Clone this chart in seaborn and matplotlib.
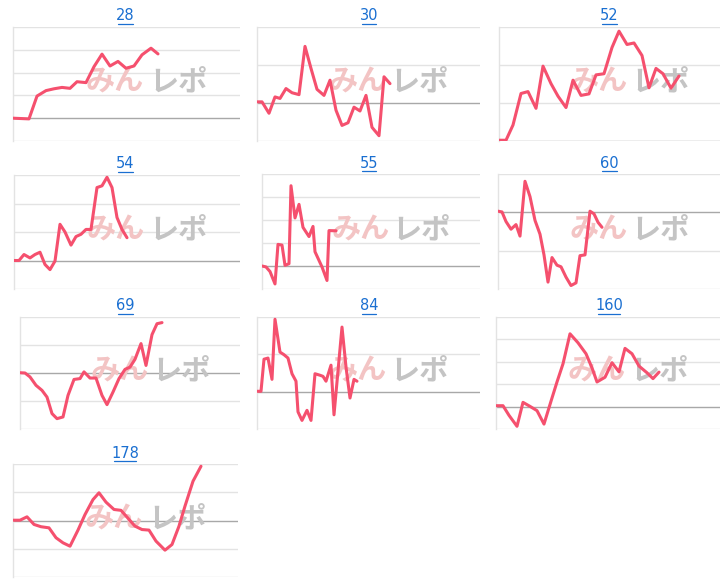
import matplotlib
matplotlib.use("Agg")
import matplotlib.pyplot as plt
import seaborn as sns
import pandas as pd
import numpy as np
from matplotlib.lines import Line2D

sns.set_theme(style="white")
plt.rcParams['font.family'] = ['DejaVu Sans']

titles = ["28", "30", "52", "54", "55", "60", "69", "84", "160", "178"]

x_28 = [0,16,24,33,41,49,57,64,73,81,89,97,105,113,121,129,138,145]
y_28 = [0,-0.03,0.97,1.21,1.29,1.35,1.31,1.60,1.56,2.26,2.81,2.29,2.49,2.19,2.29,2.78,3.07,2.82]
x_30 = [0,5,12,18,23,29,35,42,48,54,60,67,73,79,85,91,97,103,109,115,122,127,133]
y_30 = [0.03,0.03,-0.27,0.16,0.12,0.38,0.27,0.22,1.49,0.91,0.36,0.20,0.60,-0.19,-0.59,-0.52,-0.11,-0.21,0.20,-0.64,-0.86,0.69,0.51]
x_52 = [0,7,14,22,29,37,44,52,59,67,74,82,90,97,105,113,120,128,135,143,150,157,164,172,180]
y_52 = [0.02,0.02,0.42,1.25,1.30,0.86,1.97,1.51,1.18,0.88,1.60,1.20,1.24,1.74,1.77,2.46,2.89,2.54,2.58,2.25,1.40,1.91,1.77,1.39,1.71]
x_54 = [0,5,10,16,21,26,31,36,41,46,51,57,62,67,72,77,83,88,93,98,103,108,113]
y_54 = [0,0,0.21,0.09,0.21,0.29,-0.14,-0.32,-0.02,1.27,1.00,0.54,0.84,0.92,1.09,1.09,2.56,2.62,2.92,2.56,1.51,1.09,0.80]
x_55 = [0,4,8,13,16,20,23,27,29,33,37,41,47,51,53,60,65,67,74]
y_55 = [0,-0.04,-0.24,-0.78,0.94,0.91,0.03,0.10,3.49,2.09,2.68,1.68,1.28,1.72,0.62,-0.04,-0.63,1.54,1.53]
x_60 = [0,4,8,13,18,22,27,32,37,42,46,50,54,59,63,68,73,78,82,87,92,96,100,104]
y_60 = [0.03,0.01,-0.24,-0.44,-0.32,-0.62,0.81,0.41,-0.21,-0.57,-1.11,-1.82,-1.18,-1.38,-1.42,-1.69,-1.91,-1.84,-1.13,-1.11,0.03,-0.04,-0.26,-0.39]
x_69 = [0,5,10,16,22,27,32,37,43,48,54,60,64,70,76,82,87,93,99,105,110,115,121,126,132,137,142]
y_69 = [0.01,0,-0.14,-0.44,-0.62,-0.86,-1.45,-1.63,-1.57,-0.80,-0.23,-0.20,0.04,-0.18,-0.18,-0.80,-1.13,-0.68,-0.20,0.13,0.21,0.49,1.05,0.27,1.37,1.76,1.80]
x_84 = [0,4,7,11,15,18,23,27,31,35,39,41,45,50,54,58,63,66,69,74,77,85,89,93,97,100]
y_84 = [0.01,0.01,0.87,0.90,0.33,1.94,1.06,0.99,0.90,0.48,0.28,-0.54,-0.77,-0.50,-0.77,0.48,0.44,0.41,0.28,0.71,-0.62,1.73,0.66,-0.17,0.33,0.28]
x_160 = [0,7,13,21,27,34,41,48,55,61,67,74,82,90,96,101,109,116,123,129,136,143,151,157,163]
y_160 = [0.04,0.04,-0.39,-0.88,0.19,0.01,-0.18,-0.78,0.24,1.10,1.91,3.25,2.85,2.36,1.73,1.10,1.31,1.96,1.55,2.60,2.36,1.81,1.51,1.25,1.54]
x_178 = [0,7,14,21,28,36,43,50,57,65,72,80,86,93,101,108,116,122,129,136,143,152,159,166,172,180,188]
y_178 = [0.01,0.01,0.13,-0.14,-0.22,-0.26,-0.61,-0.79,-0.91,-0.34,0.21,0.74,0.98,0.65,0.39,0.36,0.04,-0.20,-0.32,-0.34,-0.73,-1.05,-0.85,-0.20,0.51,1.39,1.92]

series = [(x_28,y_28),(x_30,y_30),(x_52,y_52),(x_54,y_54),(x_55,y_55),
          (x_60,y_60),(x_69,y_69),(x_84,y_84),(x_160,y_160),(x_178,y_178)]
ylims = [(-1,4),(-1,2),(0,3),(-1,3),(-1,4),(-2,1),(-2,2),(-1,2),(-1,4),(-2,2)]
rects = [(13,27,227,114),(257,27,223,114),(499,27,221,114),
         (14,175,226,114),(262,174,218,115),(498,174,222,115),
         (20,317,220,112),(257,317,223,112),(496,317,224,112),
         (13,464,225,113)]

W, H = 720, 586
fig = plt.figure(figsize=(W/100, H/100), dpi=100)
fig.patch.set_facecolor("white")
line_color = "#f5506e"

for i, (t, (xs, ys), yl, r) in enumerate(zip(titles, series, ylims, rects)):
    l, top, w, h = r
    ax = fig.add_axes([l/W, 1-(top+h)/H, w/W, h/H])
    df = pd.DataFrame({"x": xs, "y": ys})
    ax.set_xlim(0, w)
    ax.set_ylim(*yl)
    for g in range(yl[0], yl[1]+1):
        ax.axhline(g, color="#a8a8a8" if g == 0 else "#e3e3e3", lw=1, zorder=0)
    ax.text(0.32, 0.52, "みん", transform=ax.transAxes, fontsize=21, fontweight="bold",
            family=["Noto Sans CJK JP"], color="#f3c4c4", style="italic",
            ha="left", va="center", zorder=1)
    ax.text(0.60, 0.52, "レポ", transform=ax.transAxes, fontsize=21, fontweight="bold",
            family=["Noto Sans CJK JP"], color="#c4c4c4", style="italic",
            ha="left", va="center", zorder=1)
    sns.lineplot(data=df, x="x", y="y", ax=ax, color=line_color, lw=2.2, zorder=3)
    ax.set_xticks([]); ax.set_yticks([])
    ax.set_xlabel(""); ax.set_ylabel("")
    for s in ["top", "right", "bottom"]:
        ax.spines[s].set_visible(False)
    ax.spines["left"].set_color("#e3e3e3")
    ax.spines["left"].set_linewidth(1)
    cx = 125/W
    if i in (1, 4, 7): cx = 369/W
    if i in (2, 5, 8): cx = 609/W
    ty = 1 - (top - 11)/H
    fig.text(cx, ty, t, ha="center", va="center", color="#1a6fd1", fontsize=10.5)
    tw = len(t) * 7.5
    fig.add_artist(Line2D([cx - tw/2/W, cx + tw/2/W], [ty - 8/H, ty - 8/H],
                          color="#1a6fd1", lw=0.9))

fig.savefig("out.png", dpi=100, facecolor="white")
